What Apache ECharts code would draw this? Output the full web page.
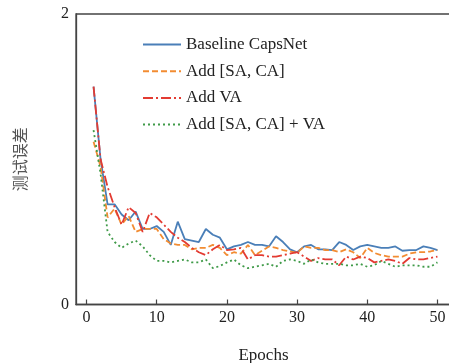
<!DOCTYPE html>
<html>
<head>
<meta charset="utf-8">
<script src="https://cdn.jsdelivr.net/npm/echarts@6/dist/echarts.min.js"></script>
<style>
  html, body { margin: 0; padding: 0; background: #fff; }
  #chart { width: 449px; height: 363px; }
</style>
</head>
<body>
<div id="chart"></div>
<script>
// epochs 1..50
const epochs = [];
for (let i = 1; i <= 50; i++) epochs.push(i);

const xTicks = [0, 10, 20, 30, 40, 50];

const baseline = [1.50, 1.00, 0.69, 0.69, 0.62, 0.58, 0.64, 0.52, 0.52, 0.54,
  0.50, 0.41, 0.57, 0.45, 0.44, 0.43, 0.52, 0.48, 0.46, 0.38,
  0.40, 0.41, 0.43, 0.41, 0.41, 0.40, 0.47, 0.43, 0.38, 0.36,
  0.40, 0.41, 0.38, 0.38, 0.375, 0.43, 0.41, 0.375, 0.40, 0.41,
  0.40, 0.39, 0.39, 0.40, 0.37, 0.375, 0.375, 0.40, 0.39, 0.375];

const addSaCa = [1.12, 0.95, 0.60, 0.66, 0.55, 0.61, 0.50, 0.52, 0.52, 0.52,
  0.45, 0.42, 0.41, 0.41, 0.38, 0.39, 0.39, 0.41, 0.39, 0.34,
  0.36, 0.35, 0.41, 0.34, 0.37, 0.40, 0.39, 0.375, 0.365, 0.355,
  0.40, 0.39, 0.39, 0.375, 0.375, 0.36, 0.38, 0.36, 0.32, 0.39,
  0.355, 0.34, 0.33, 0.33, 0.33, 0.35, 0.36, 0.36, 0.365, 0.375];

const addVa = [1.50, 1.00, 0.81, 0.67, 0.55, 0.67, 0.63, 0.50, 0.63, 0.60,
  0.55, 0.50, 0.46, 0.43, 0.39, 0.36, 0.34, 0.38, 0.41, 0.375,
  0.38, 0.39, 0.31, 0.34, 0.34, 0.33, 0.33, 0.34, 0.35, 0.36,
  0.33, 0.30, 0.32, 0.31, 0.31, 0.27, 0.33, 0.31, 0.33, 0.32,
  0.29, 0.30, 0.31, 0.30, 0.28, 0.32, 0.31, 0.31, 0.32, 0.33];

const addAll = [1.20, 0.90, 0.50, 0.43, 0.39, 0.42, 0.44, 0.40, 0.34, 0.30,
  0.30, 0.29, 0.30, 0.31, 0.29, 0.29, 0.31, 0.25, 0.265, 0.29,
  0.31, 0.27, 0.25, 0.26, 0.27, 0.28, 0.26, 0.30, 0.31, 0.30,
  0.28, 0.31, 0.29, 0.28, 0.28, 0.28, 0.27, 0.27, 0.28, 0.26,
  0.27, 0.30, 0.28, 0.26, 0.27, 0.27, 0.27, 0.26, 0.26, 0.29];

const serif = '"Liberation Serif", "DejaVu Serif", serif';
const axisColor = '#444';

function pairs(vals) {
  return vals.map((v, i) => [epochs[i], v]);
}

function lineSeries(name, vals, color, dash) {
  return {
    name: name,
    type: 'line',
    data: pairs(vals),
    symbol: 'none',
    animation: false,
    lineStyle: { color: color, width: 1.8, type: dash },
    itemStyle: { color: color }
  };
}

const myChart = echarts.init(document.getElementById('chart'));
myChart.setOption({
  animation: false,
  grid: {
    left: 76,
    right: -6,
    top: 14,
    bottom: 58.5,
    outerBoundsMode: 'none',
    containLabel: false,
    show: true,
    borderColor: axisColor,
    borderWidth: 1.3
  },
  legend: {
    orient: 'vertical',
    left: 137,
    top: 31,
    itemWidth: 38,
    itemHeight: 17,
    itemGap: 9.7,
    itemStyle: { color: 'transparent', borderWidth: 0 },
    textStyle: { fontFamily: serif, fontSize: 17, color: '#222', lineHeight: 17 },
    data: ['Baseline CapsNet', 'Add [SA, CA]', 'Add VA', 'Add [SA, CA] + VA']
  },
  xAxis: {
    type: 'value',
    min: -1.5,
    max: 52.5,
    name: 'Epochs',
    nameLocation: 'middle',
    nameGap: 43,
    nameTextStyle: { fontFamily: serif, fontSize: 17, color: '#222', padding: [0, 4, 0, 0] },
    axisLine: { onZero: false, lineStyle: { color: axisColor, width: 1.3 } },
    axisTick: { inside: true, length: 5, customValues: xTicks, lineStyle: { color: axisColor, width: 1.2 } },
    axisLabel: { customValues: xTicks, fontFamily: serif, fontSize: 16, color: '#222', margin: 5 },
    splitLine: { show: false }
  },
  yAxis: {
    type: 'value',
    min: 0,
    max: 2,
    interval: 2,
    name: '测试误差',
    nameLocation: 'middle',
    nameGap: 48,
    nameRotate: 90,
    nameTextStyle: { fontFamily: '"Noto Sans CJK SC", sans-serif', fontSize: 16, color: '#555' },
    axisLine: { show: true, onZero: false, lineStyle: { color: axisColor, width: 1.3 } },
    axisTick: { show: false },
    axisLabel: { fontFamily: serif, fontSize: 16, color: '#222', margin: 7 },
    splitLine: { show: false }
  },
  series: [
    lineSeries('Baseline CapsNet', baseline, '#4a7fb8', 'solid'),
    lineSeries('Add [SA, CA]', addSaCa, '#f28c32', [6, 3]),
    lineSeries('Add VA', addVa, '#e33b32', [10, 3, 2, 3]),
    lineSeries('Add [SA, CA] + VA', addAll, '#3f9a48', [2, 3])
  ]
});
</script>
</body>
</html>
